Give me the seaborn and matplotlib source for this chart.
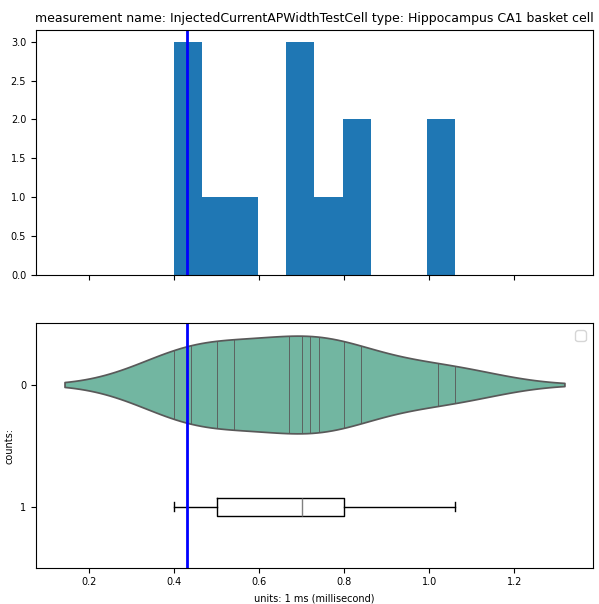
import matplotlib
matplotlib.use("Agg")
from matplotlib import pyplot as plt
import seaborn as sns
import numpy as np

values = [0.40, 0.43, 0.44, 0.50, 0.54, 0.67, 0.70, 0.72, 0.74, 0.80, 0.84, 1.02, 1.06]
observed = 0.43
title = "measurement name: InjectedCurrentAPWidthTestCell type: Hippocampus CA1 basket cell"

fig, (ax1, ax2) = plt.subplots(2, 1, sharex=True, figsize=(5.99, 6.04), dpi=100)

ax1.hist(values, bins=10, color="#1f77b4")
ax1.axvline(observed, color="blue", lw=2)
ax1.set_title(title, fontsize=9)
ax1.tick_params(labelsize=7)

sns.violinplot(x=values, ax=ax2, inner="stick", color="#66c2a5", orient="h")
ax2.boxplot(values, vert=False, positions=[1], widths=0.15,
            medianprops=dict(color="grey"))
ax2.axvline(observed, color="blue", lw=2)
ax2.set_ylim(1.5, -0.5)
ax2.set_yticks([0, 1])
ax2.set_yticklabels(["0", "1"])
ax2.set_xlim(0.075, 1.385)
ax2.set_ylabel("counts:", fontsize=7)
ax2.set_xlabel("units: 1 ms (millisecond)", fontsize=7)
ax2.tick_params(labelsize=7)
ax2.legend(loc="upper right")

plt.subplots_adjust(left=0.06, right=0.99, top=0.95, bottom=0.06, hspace=0.2)
fig.savefig("out.png")
